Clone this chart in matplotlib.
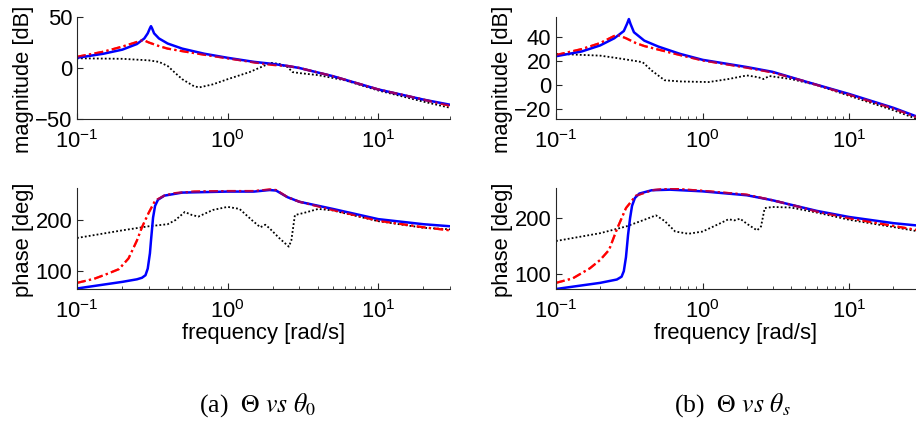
import matplotlib
matplotlib.use("Agg")
import matplotlib.pyplot as plt
import numpy as np

plt.rcParams['font.family'] = ['Liberation Sans', 'DejaVu Sans']
plt.rcParams['mathtext.fontset'] = 'custom'
plt.rcParams['mathtext.rm'] = 'Liberation Sans'
plt.rcParams['mathtext.it'] = 'Liberation Sans:italic'

# ---------------- (a) Theta vs theta_0 : magnitude ----------------
a_mag_blue_f = [0.1, 0.15, 0.2, 0.25, 0.28, 0.295, 0.305, 0.31, 0.315, 0.325, 0.35, 0.4, 0.5, 0.7, 1.0, 1.5, 2.0, 2.5, 3.0, 5.0, 10.0, 20.0, 30.0]
a_mag_blue = [10, 14, 18, 23.5, 29, 34, 39, 41, 39, 34, 29, 24, 19, 14, 10, 6, 4, 2, 0, -8, -21, -31, -36]
a_mag_red_f = [0.1, 0.15, 0.2, 0.25, 0.275, 0.3, 0.35, 0.4, 0.5, 0.7, 1.0, 1.5, 2.0, 2.5, 3.0, 5.0, 10.0, 20.0, 30.0]
a_mag_red = [11, 16, 21, 25.5, 27.5, 25, 21.5, 19, 16.5, 13, 9.5, 5.5, 3, 2, 0, -8, -21, -31, -37]
a_mag_blk_f = [0.1, 0.2, 0.3, 0.35, 0.4, 0.45, 0.5, 0.6, 0.65, 0.8, 1.0, 1.4, 1.8, 1.95, 2.2, 2.5, 2.7, 3.0, 4.0, 6.0, 10.0, 20.0, 30.0]
a_mag_blk = [9.5, 9, 7.5, 6, 2, -5, -11, -18, -19, -16, -11, -4, 3, 5, 4, 1, -4, -5, -7, -12, -22, -33, -39]

# ---------------- (a) phase ----------------
a_ph_blue_f = [0.1, 0.2, 0.25, 0.27, 0.285, 0.295, 0.305, 0.31, 0.32, 0.33, 0.345, 0.38, 0.5, 1.0, 1.5, 1.9, 2.1, 2.5, 3.0, 5.0, 10.0, 20.0, 30.0]
a_ph_blue = [66, 79, 84, 87, 92, 105, 135, 160, 205, 228, 240, 248, 254, 256, 256, 259, 258, 245, 236, 222, 202, 192, 188]
a_ph_red_f = [0.1, 0.13, 0.16, 0.19, 0.22, 0.25, 0.27, 0.3, 0.33, 0.38, 0.45, 0.6, 1.0, 1.5, 1.9, 2.1, 2.5, 3.0, 5.0, 10.0, 20.0, 30.0]
a_ph_red = [77, 85, 95, 104, 125, 160, 186, 215, 238, 248, 253, 256, 257, 257, 260, 259, 245, 236, 220, 199, 186, 180]
a_ph_blk_f = [0.1, 0.2, 0.3, 0.4, 0.45, 0.52, 0.58, 0.64, 0.8, 1.0, 1.2, 1.45, 1.65, 1.78, 1.9, 2.2, 2.55, 2.65, 2.8, 3.2, 4.0, 5.0, 10.0, 20.0, 30.0]
a_ph_blk = [165, 180, 188, 192, 200, 216, 210, 207, 220, 226, 222, 200, 186, 191, 184, 165, 148, 160, 210, 214, 222, 219, 198, 185, 182]

# ---------------- (b) Theta vs theta_s : magnitude ----------------
b_mag_blue_f = [0.1, 0.15, 0.2, 0.25, 0.29, 0.305, 0.314, 0.322, 0.34, 0.4, 0.5, 0.7, 1.0, 2.0, 3.0, 5.0, 10.0, 20.0, 28.5]
b_mag_blue = [24, 28, 33, 39, 45, 51, 55, 51, 44, 37, 32, 26, 21, 15, 11, 3, -7.5, -19, -26]
b_mag_red_f = [0.1, 0.15, 0.2, 0.26, 0.3, 0.35, 0.4, 0.5, 0.7, 1.0, 2.0, 3.0, 5.0, 10.0, 20.0, 28.5]
b_mag_red = [25, 30, 35, 42, 39, 35, 32.5, 29.5, 25, 20.5, 14.5, 10.5, 3, -8, -19.5, -26.5]
b_mag_blk_f = [0.1, 0.2, 0.26, 0.35, 0.39, 0.45, 0.55, 0.7, 1.1, 1.5, 2.0, 2.4, 2.6, 2.85, 4.0, 6.0, 10.0, 20.0, 28.5]
b_mag_blk = [26, 24.5, 22.5, 20, 19, 12, 4, 3, 2.5, 5, 8, 6.5, 5, 7.5, 5, 0, -9, -21, -28]

# ---------------- (b) phase ----------------
b_ph_blue_f = [0.1, 0.2, 0.26, 0.28, 0.29, 0.3, 0.31, 0.32, 0.33, 0.345, 0.37, 0.45, 0.6, 1.0, 2.0, 3.0, 4.0, 6.0, 10.0, 20.0, 28.5]
b_ph_blue = [73, 84, 90, 95, 105, 130, 170, 200, 222, 236, 244, 250, 251, 248, 241, 232, 224, 213, 202, 191, 187]
b_ph_red_f = [0.1, 0.13, 0.17, 0.2, 0.23, 0.26, 0.3, 0.35, 0.45, 0.6, 1.0, 2.0, 3.0, 4.0, 6.0, 10.0, 20.0, 28.5]
b_ph_red = [84, 92, 110, 125, 143, 180, 218, 240, 250, 253, 249, 242, 232, 224, 212, 200, 186, 179]
b_ph_blk_f = [0.1, 0.2, 0.3, 0.4, 0.48, 0.55, 0.65, 0.8, 1.0, 1.3, 1.5, 1.65, 1.8, 2.0, 2.35, 2.5, 2.65, 3.0, 4.0, 6.0, 10.0, 20.0, 28.5]
b_ph_blk = [159, 173, 185, 197, 205, 195, 176, 172, 176, 190, 198, 196, 199, 190, 178, 185, 218, 220, 219, 210, 197, 184, 177]

captions = [r"(a)  $\Theta$ $vs$ $\theta_0$", r"(b)  $\Theta$ $vs$ $\theta_s$"]

W, H = 916, 421
fig = plt.figure(figsize=(W / 100, H / 100), dpi=100)

def px_axes(x0, y0, x1, y1):
    return fig.add_axes([x0 / W, 1 - y1 / H, (x1 - x0) / W, (y1 - y0) / H])

FS = 15.8

def style(ax, xlim, ylim, yticks):
    ax.set_xscale('log')
    ax.set_xlim(*xlim)
    ax.set_ylim(*ylim)
    ax.set_yticks(yticks)
    ax.spines['top'].set_visible(False)
    ax.spines['right'].set_visible(False)
    for s in ('left', 'bottom'):
        ax.spines[s].set_color('#262626')
        ax.spines[s].set_linewidth(0.8)
    ax.tick_params(which='both', direction='in', labelsize=FS, colors='#262626', labelcolor='black')
    ax.tick_params(which='major', length=4)
    ax.tick_params(which='minor', length=2.5)
    ax.tick_params(axis='x', pad=8)

axes_specs = [
    ((77, 17, 450, 119), (0.1, 30), (-50, 50), [-50, 0, 50],
     (a_mag_blue_f, a_mag_blue), (a_mag_red_f, a_mag_red), (a_mag_blk_f, a_mag_blk), 'magnitude [dB]', False, 34, 79),
    ((77, 188, 450, 289), (0.1, 30), (65, 263), [100, 200],
     (a_ph_blue_f, a_ph_blue), (a_ph_red_f, a_ph_red), (a_ph_blk_f, a_ph_blk), 'phase [deg]', True, 34, 240),
    ((556, 17, 916, 119), (0.1, 28.5), (-28.3, 56.7), [-20, 0, 20, 40],
     (b_mag_blue_f, b_mag_blue), (b_mag_red_f, b_mag_red), (b_mag_blk_f, b_mag_blk), 'magnitude [dB]', False, 513, 79),
    ((556, 188, 916, 289), (0.1, 28.5), (73, 254), [100, 200],
     (b_ph_blue_f, b_ph_blue), (b_ph_red_f, b_ph_red), (b_ph_blk_f, b_ph_blk), 'phase [deg]', True, 513, 240),
]

for box, xl, yl, yt, blue, red, blk, ylab, xlab, lx, ly in axes_specs:
    ax = px_axes(*box)
    style(ax, xl, yl, yt)
    ax.plot(*blk, color='black', lw=1.3, ls=(0, (1, 1.2)))
    ax.plot(*red, color='red', lw=1.6, ls=(0, (4, 1.5, 1, 1.5)))
    ax.plot(*blue, color='blue', lw=1.8)
    ax.plot(*red, color='red', lw=1.6, ls=(0, (4, 1.5, 1, 1.5)), alpha=0.6)
    ax.set_ylabel(ylab, fontsize=FS)
    x0, y0, x1, y1 = box
    ax.yaxis.set_label_coords((lx - x0) / (x1 - x0), (y1 - ly) / (y1 - y0))
    if xlab:
        ax.set_xlabel('frequency [rad/s]', fontsize=FS, labelpad=0)

for cap, cx in zip(captions, (258, 732)):
    fig.text(cx / W, 1 - 405 / H, cap, ha='center', va='center', fontsize=18.5,
             family='Liberation Serif', math_fontfamily='stix')

fig.savefig('out.png', dpi=100)
